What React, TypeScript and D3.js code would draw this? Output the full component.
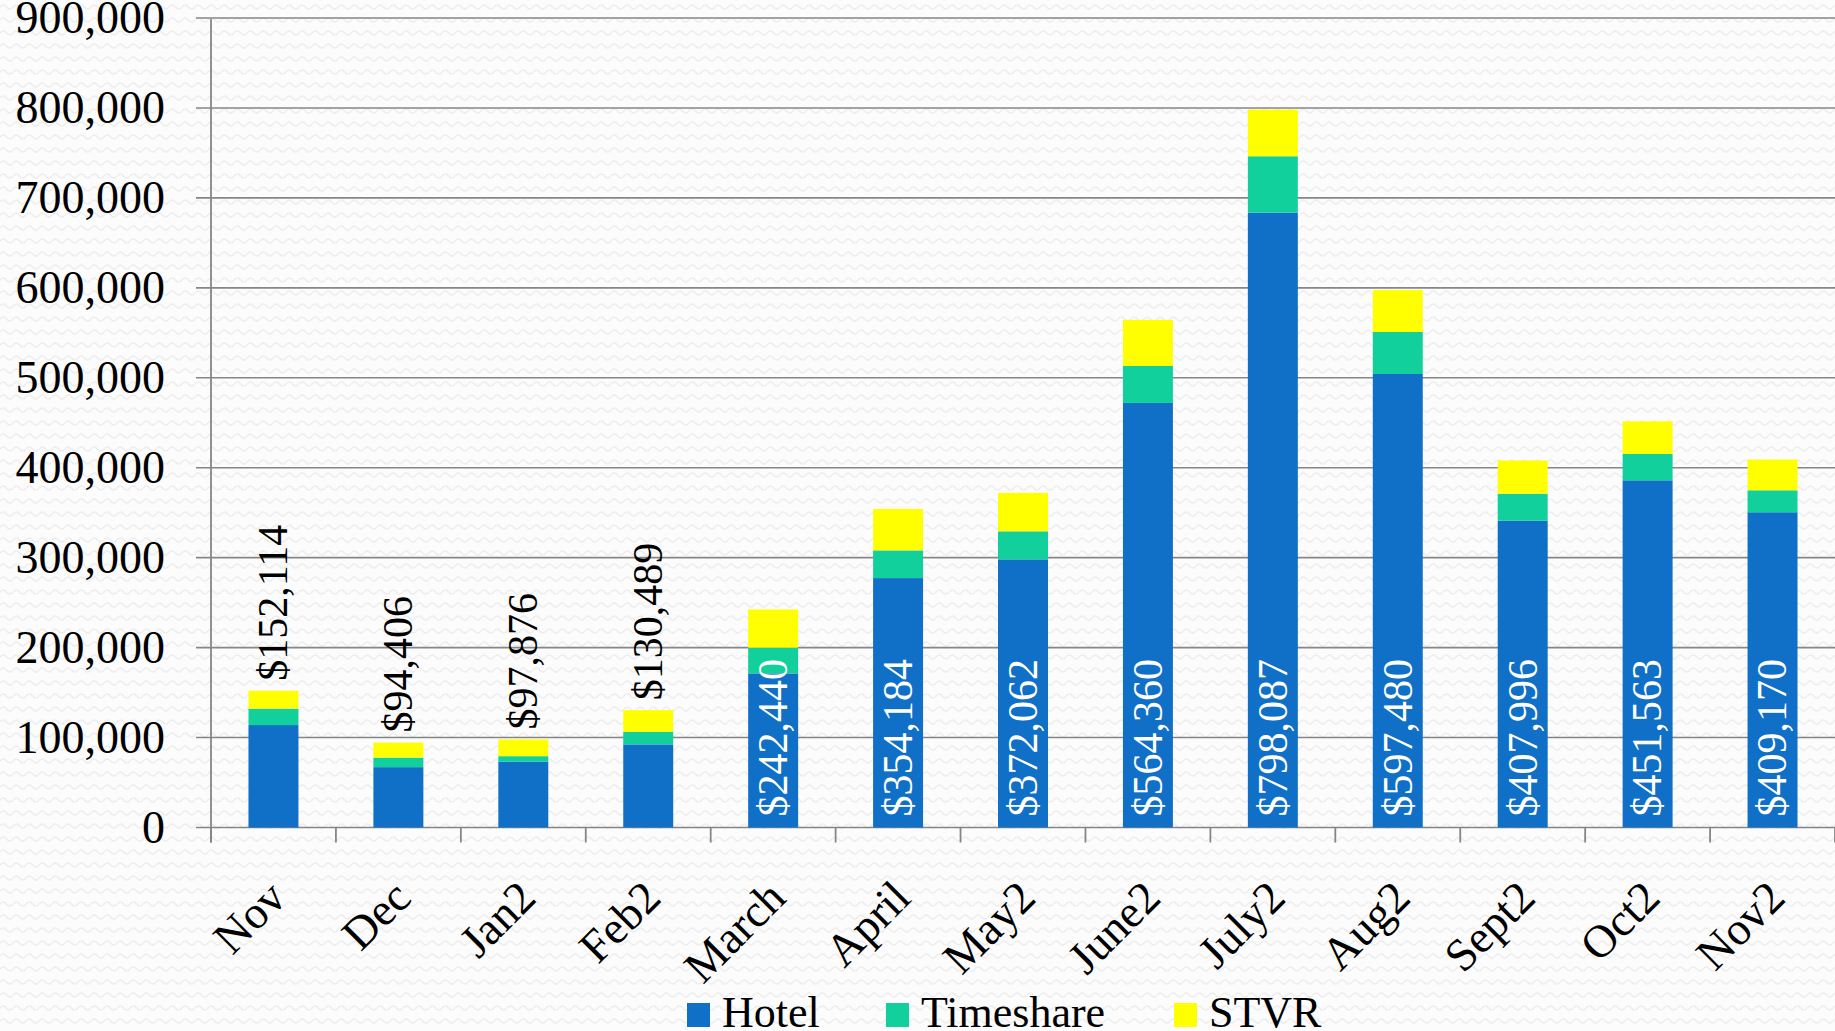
import * as d3 from 'd3';

const months = ['Nov', 'Dec', 'Jan2', 'Feb2', 'March', 'April', 'May2', 'June2', 'July2', 'Aug2', 'Sept2', 'Oct2', 'Nov2'];
const hotel = [113900, 67100, 73200, 92400, 171300, 277300, 298100, 472000, 683600, 504200, 341100, 386000, 350500];
const timeshare = [18200, 10600, 6100, 13900, 28600, 30800, 31200, 41100, 62700, 46700, 30000, 29300, 24400];
const stvr = [20014, 16706, 18576, 24189, 42540, 46084, 42762, 51260, 51787, 46580, 36896, 36263, 34270];
const totals = [152114, 94406, 97876, 130489, 242440, 354184, 372062, 564360, 798087, 597480, 407996, 451563, 409170];
const yTicks = [0, 100000, 200000, 300000, 400000, 500000, 600000, 700000, 800000, 900000];

const seriesNames = ['Hotel', 'Timeshare', 'STVR'];
const colors = ['#106FC6', '#12D09B', '#FFFF00'];

const W = 1835;
const H = 1031;
const FONT = '"Liberation Serif", "Times New Roman", serif';

export default function App() {
  const rows = months.map((m, i) => ({ month: m, Hotel: hotel[i], Timeshare: timeshare[i], STVR: stvr[i] }));
  const stacked = d3.stack<any>().keys(seriesNames)(rows);

  const x = d3.scaleBand().domain(months).range([211, W]).paddingInner(0.6).paddingOuter(0.3);
  const y = d3.scaleLinear().domain([0, 900000]).range([827.5, 18]);
  const y0 = y(0);
  const step = x.step();
  const half = (step - x.bandwidth()) / 2;
  const boundaries = months.map((m) => (x(m) ?? 0) - half).concat([W]);
  const fmt = d3.format(',');

  return (
    <svg width={W} height={H} style={{ position: 'absolute', left: 0, top: 0 }} fontFamily={FONT}>
      <defs>
        <pattern id="wave" width="13" height="13" patternUnits="userSpaceOnUse">
          <rect width="13" height="13" fill="#fcfcfc" />
          <path d="M0 7 Q3.25 3 6.5 7 T13 7" fill="none" stroke="#eeeeee" strokeWidth="1.6" />
        </pattern>
      </defs>
      <rect width={W} height={H} fill="url(#wave)" />

      {/* gridlines + y labels */}
      {yTicks.map((t) => (
        <g key={t}>
          <line x1={196} x2={W} y1={y(t)} y2={y(t)} stroke="#868686" strokeWidth={1.6} />
          <text x={165} y={y(t)} dy="0.33em" textAnchor="end" fontSize={46} fill="#000">
            {fmt(t)}
          </text>
        </g>
      ))}

      {/* y axis line */}
      <line x1={211} x2={211} y1={19} y2={842.5} stroke="#868686" strokeWidth={1.8} />
      {/* category ticks */}
      {boundaries.map((bx, i) => (
        <line key={i} x1={bx} x2={bx} y1={y0} y2={y0 + 15} stroke="#868686" strokeWidth={1.8} />
      ))}

      {/* stacked bars */}
      {stacked.map((s, si) => (
        <g key={s.key} fill={colors[si]}>
          {s.map((d, i) => (
            <rect
              key={months[i]}
              x={x(months[i])}
              width={x.bandwidth()}
              y={y(d[1])}
              height={y(d[0]) - y(d[1])}
            />
          ))}
        </g>
      ))}

      {/* totals labels */}
      {totals.map((v, i) => {
        const cx = (x(months[i]) ?? 0) + x.bandwidth() / 2;
        const inside = y0 - y(v) > 175;
        const ly = inside ? y0 - 11 : y(v) - 10;
        return (
          <text
            key={i}
            transform={`translate(${cx},${ly}) rotate(-90)`}
            dy="0.33em"
            textAnchor="start"
            fontSize={42}
            fill={inside ? '#ffffff' : '#000000'}
          >
            {'$' + fmt(v)}
          </text>
        );
      })}

      {/* x labels */}
      {months.map((m) => {
        const cx = (x(m) ?? 0) + x.bandwidth() / 2;
        return (
          <text
            key={m}
            transform={`translate(${cx + 4},${y0 + 62}) rotate(-45)`}
            dy="0.33em"
            textAnchor="end"
            fontSize={46}
            fill="#000"
          >
            {m}
          </text>
        );
      })}

      {/* legend */}
      {seriesNames.map((n, i) => {
        const lx = [687, 886, 1174][i];
        return (
          <g key={n}>
            <rect x={lx} y={1003} width={23} height={24} fill={colors[i]} />
            <text x={lx + 35} y={1027} fontSize={44} fill="#000">
              {n}
            </text>
          </g>
        );
      })}
    </svg>
  );
}
